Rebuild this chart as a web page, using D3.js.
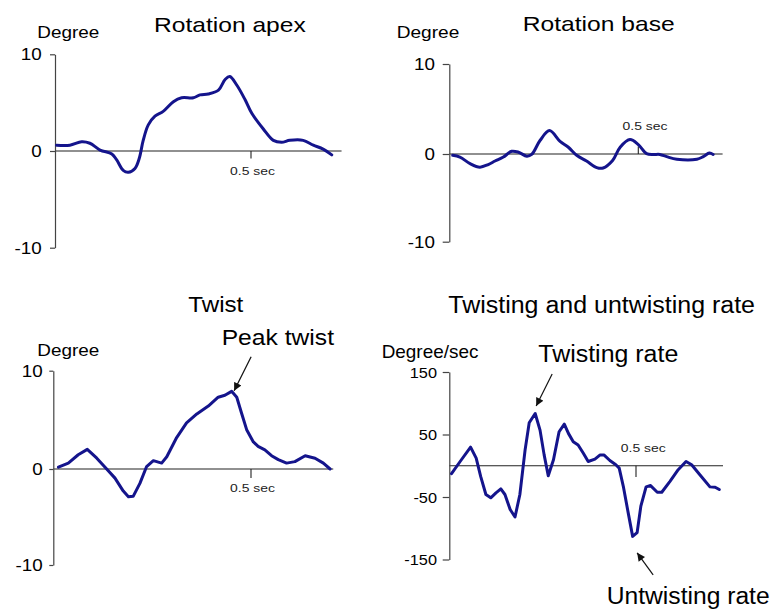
<!DOCTYPE html>
<html>
<head>
<meta charset="utf-8">
<script src="https://cdn.jsdelivr.net/npm/d3@7/dist/d3.min.js"></script>
<style>
  html, body { margin: 0; padding: 0; background: #fff; }
  svg { display: block; }
  text { font-family: Arial, "Liberation Sans", sans-serif; fill: #000; }
</style>
</head>
<body>
<svg id="chart" width="774" height="609"></svg>
<script>
// ---- data: time in seconds, rotation in degrees, rate in degrees/sec ----
const apexTime = [0.004,0.038,0.068,0.089,0.115,0.145,0.157,0.174,0.187,0.204,0.215,0.225,0.238,0.255,0.276,0.302,0.323,0.353,0.370,0.391,0.417,0.434,0.446,0.464,0.485,0.502,0.531,0.557,0.578,0.599,0.633,0.659,0.684,0.706];
const apexDeg  = [0.6,0.6,0.95,0.8,0.1,-0.3,-0.9,-2.0,-2.2,-1.8,-0.75,1.1,2.7,3.6,4.1,5.1,5.5,5.5,5.8,5.9,6.3,7.4,7.7,6.8,5.3,3.9,2.3,1.1,0.9,1.1,1.1,0.6,0.2,-0.4];

const baseTime = [0.009,0.028,0.055,0.081,0.103,0.121,0.143,0.165,0.183,0.205,0.218,0.240,0.265,0.293,0.315,0.337,0.363,0.390,0.407,0.432,0.452,0.478,0.500,0.522,0.540,0.557,0.575,0.602,0.655,0.672,0.688,0.698];
const baseDeg  = [-0.15,-0.35,-1.1,-1.5,-1.2,-0.8,-0.35,0.3,0.2,-0.25,-0.05,1.5,2.6,1.4,0.75,-0.15,-0.8,-1.55,-1.6,-0.75,0.75,1.6,1.05,0.05,-0.05,-0.05,-0.3,-0.6,-0.6,-0.3,0.1,-0.05];

const twistTime = [0.013,0.038,0.063,0.086,0.110,0.135,0.156,0.177,0.190,0.202,0.219,0.236,0.253,0.274,0.287,0.312,0.337,0.363,0.392,0.417,0.434,0.451,0.464,0.476,0.489,0.506,0.518,0.535,0.552,0.569,0.590,0.611,0.637,0.662,0.683,0.700];
const twistDeg  = [0.18,0.6,1.45,2.0,1.1,0.0,-0.95,-2.3,-2.9,-2.85,-1.5,0.25,0.85,0.6,1.25,3.2,4.7,5.6,6.4,7.3,7.5,7.9,7.3,5.7,4.0,2.75,2.3,1.95,1.35,0.95,0.6,0.75,1.35,1.1,0.6,0.0];

const rateTime = [0.006,0.029,0.057,0.072,0.084,0.098,0.111,0.125,0.138,0.149,0.163,0.176,0.189,0.203,0.214,0.230,0.243,0.254,0.265,0.279,0.294,0.308,0.319,0.332,0.345,0.359,0.372,0.390,0.404,0.414,0.430,0.446,0.455,0.466,0.479,0.491,0.503,0.513,0.527,0.539,0.557,0.569,0.591,0.613,0.634,0.649,0.671,0.698,0.712,0.723];
const rateVal  = [-12.7,6.8,29.7,12.2,-17,-46,-51.3,-43.4,-37,-46,-70,-82,-46,25.4,68.7,83.6,57,17.4,-15.9,9.5,54.4,66.6,51.8,38.5,33.3,20,6.8,10.6,17.4,17.4,8.4,1.6,-3.7,-32.9,-75,-113,-107,-64.6,-33.8,-31.7,-42.4,-42.4,-24.9,-6.3,6.8,1.6,-14.3,-33.8,-34.4,-38];

const degTicks  = [10, 0, -10];
const rateTicks = [150, 50, -50, -150];
const timeMark  = 0.5;
const timeMarkLabel = "0.5 sec";

const titles = ["Rotation apex", "Rotation base", "Twist", "Twisting and untwisting rate"];
const unitLabels = ["Degree", "Degree", "Degree", "Degree/sec"];

// ---- drawing ----
const svg = d3.select("#chart");
svg.append("rect").attr("width", 774).attr("height", 609).attr("fill", "#fff");

const LINE = "#14148c";
const AXIS = "#444";

svg.append("defs").append("marker")
  .attr("id", "arrowhead")
  .attr("viewBox", "0 0 10 10")
  .attr("refX", 10).attr("refY", 5)
  .attr("markerUnits", "userSpaceOnUse")
  .attr("markerWidth", 9).attr("markerHeight", 8)
  .attr("orient", "auto")
  .append("path").attr("d", "M0,0 L10,5 L0,10 Z").attr("fill", "#111");

// text placed with a target width (the labels are slightly wide-set)
function label(x, y, str, size, width, anchor = "start") {
  return svg.append("text")
    .attr("x", x).attr("y", y)
    .attr("font-size", size)
    .attr("text-anchor", anchor)
    .attr("textLength", width)
    .attr("lengthAdjust", "spacingAndGlyphs")
    .text(str);
}

function stretch(sel, sx) {
  sel.each(function () {
    const w = this.getComputedTextLength();
    d3.select(this).attr("textLength", w * sx).attr("lengthAdjust", "spacingAndGlyphs");
  });
}

const panels = [
  { time: apexTime, vals: apexDeg, curve: d3.curveCatmullRom.alpha(0.5),
    x0: 55, xHalf: 251, tEnd: 0.731,
    yDom: [-10, 0, 10], yRange: [247.7, 151, 54.3], ticks: degTicks,
    tickLen: 5, tickPad: 8.3, tickFont: 15.8, tickSx: 1.19,
    markDir: 1, markLen: 7.5, markLabel: [252.5, 175] },
  { time: baseTime, vals: baseDeg, curve: d3.curveCatmullRom.alpha(0.5),
    x0: 449.3, xHalf: 638.3, tEnd: 0.723,
    yDom: [-10, 0, 10], yRange: [241.7, 154, 64], ticks: degTicks,
    tickLen: 6.6, tickPad: 7.7, tickFont: 15.8, tickSx: 1.19,
    markDir: -1, markLen: 7.6, markLabel: [645, 130] },
  { time: twistTime, vals: twistDeg, curve: d3.curveLinear,
    x0: 53.3, xHalf: 251, tEnd: 0.708,
    yDom: [-10, 0, 10], yRange: [565, 469, 370.7], ticks: degTicks,
    tickLen: 4, tickPad: 6.6, tickFont: 15.8, tickSx: 1.19,
    markDir: 1, markLen: 9, markLabel: [252.5, 491.7] },
  { time: rateTime, vals: rateVal, curve: d3.curveLinear,
    x0: 449.3, xHalf: 636, tEnd: 0.733,
    yDom: [-150, 0, 150], yRange: [559.5, 465.75, 372], ticks: rateTicks,
    tickLen: 6.6, tickPad: 5.7, tickFont: 15.4, tickSx: 1.06,
    markDir: 1, markLen: 11.3, markLabel: [643.3, 451.7] }
];

panels.forEach(p => {
  p.x = d3.scaleLinear().domain([0, timeMark]).range([p.x0, p.xHalf]);
  p.y = d3.scaleLinear().domain(p.yDom).range(p.yRange);
  const g = svg.append("g");

  // zero baseline
  g.append("line")
    .attr("x1", p.x(0)).attr("x2", p.x(p.tEnd))
    .attr("y1", p.y(0)).attr("y2", p.y(0))
    .attr("stroke", "#222").attr("stroke-width", 1.1);

  // 0.5 sec marker
  g.append("line")
    .attr("x1", p.x(timeMark)).attr("x2", p.x(timeMark))
    .attr("y1", p.y(0)).attr("y2", p.y(0) + p.markDir * p.markLen)
    .attr("stroke", "#222").attr("stroke-width", 1.1);
  const ml = g.append("text")
    .attr("x", p.markLabel[0]).attr("y", p.markLabel[1])
    .attr("text-anchor", "middle")
    .attr("font-size", 11.6)
    .style("fill", "#222")
    .text(timeMarkLabel);
  stretch(ml, 1.2);

  // value axis (plain hyphen for negative labels)
  const ax = g.append("g")
    .attr("transform", `translate(${p.x(0)},0)`)
    .call(d3.axisLeft(p.y).tickValues(p.ticks).tickSize(p.tickLen)
      .tickSizeOuter(0).tickPadding(p.tickPad).tickFormat(d => String(d)));
  ax.select(".domain").attr("stroke", AXIS).attr("stroke-width", 1.2);
  ax.selectAll(".tick line").attr("stroke", AXIS).attr("stroke-width", 1.2);
  ax.selectAll(".tick text")
    .attr("font-family", "Arial, 'Liberation Sans', sans-serif")
    .attr("font-size", p.tickFont)
    .attr("dy", "0.35em")
    .style("fill", "#000");
  stretch(ax.selectAll(".tick text"), p.tickSx);

  // curve
  const line = d3.line().x(d => p.x(d[0])).y(d => p.y(d[1])).curve(p.curve);
  g.append("path")
    .datum(d3.zip(p.time, p.vals))
    .attr("d", line)
    .attr("fill", "none")
    .attr("stroke", LINE)
    .attr("stroke-width", 3)
    .attr("stroke-linejoin", "round")
    .attr("stroke-linecap", "round");
});

// titles and unit labels
label(154, 31.7, titles[0], 21, 151.7);
label(522.7, 30.5, titles[1], 21, 152);
label(188.3, 311.7, titles[2], 22, 55);
label(448.3, 313.3, titles[3], 23, 306.7);

label(37.3, 37.5, unitLabels[0], 17, 62);
label(396.7, 37.5, unitLabels[1], 17, 62.6);
label(37.3, 356, unitLabels[2], 17, 62);
label(381.7, 358.3, unitLabels[3], 18.5, 96.7);

// annotations, each arrow anchored to its data extreme
function annotate(p, i, tipOff, tailOff) {
  const tx = p.x(p.time[i]) + tipOff[0], ty = p.y(p.vals[i]) + tipOff[1];
  svg.append("line")
    .attr("x1", tx + tailOff[0]).attr("y1", ty + tailOff[1])
    .attr("x2", tx).attr("y2", ty)
    .attr("stroke", "#111").attr("stroke-width", 1.2)
    .attr("marker-end", "url(#arrowhead)");
}
const peakTwistIdx = twistDeg.indexOf(d3.max(twistDeg));
const peakRateIdx = rateVal.indexOf(d3.max(rateVal));
const minRateIdx = rateVal.indexOf(d3.min(rateVal));

annotate(panels[2], peakTwistIdx, [2.5, -0.5], [17, -34]);
annotate(panels[3], peakRateIdx, [1, -7.5], [16, -32]);
annotate(panels[3], minRateIdx, [4.5, 16.5], [16, 22]);

label(221.7, 345, "Peak twist", 22.5, 112.3);
label(538.3, 361.7, "Twisting rate", 23, 140);
label(606.7, 604, "Untwisting rate", 23, 163);
</script>
</body>
</html>
